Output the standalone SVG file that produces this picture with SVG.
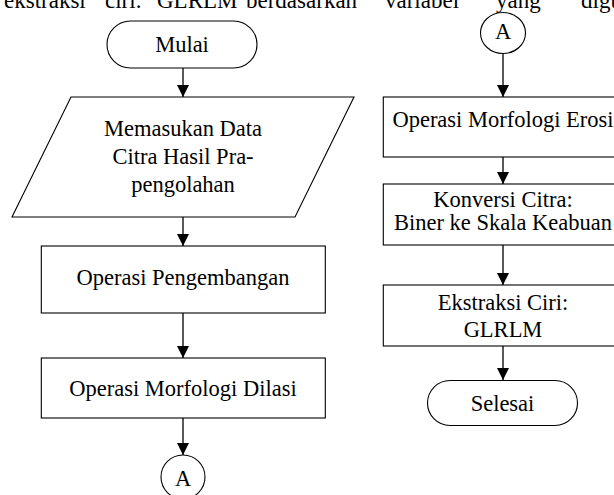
<svg xmlns="http://www.w3.org/2000/svg" width="614" height="495" viewBox="0 0 614 495">
<style>
.s{fill:#fff;stroke:#000;stroke-width:1.1}
.t{font-family:"Liberation Serif","Times New Roman",serif;font-size:22.5px;fill:#000;text-anchor:middle}
.c line{stroke:#000;stroke-width:1.3}
</style>
<defs>
<marker id="ah" markerWidth="12" markerHeight="12" viewBox="0 0 12 12" refX="12" refY="6" orient="auto" markerUnits="userSpaceOnUse">
<path d="M0,0 L12,6 L0,12 Z" fill="#000"/>
</marker>
</defs>
<rect width="614" height="495" fill="#fff"/>
<text y="8" style="font-family:'Liberation Serif','Times New Roman',serif;font-size:23px"><tspan x="4">ekstraksi</tspan><tspan x="105">ciri.</tspan><tspan x="157">GLRLM</tspan><tspan x="246">berdasarkan</tspan><tspan x="385">variabel</tspan><tspan x="496">yang</tspan><tspan x="581">digunakan</tspan></text>
<g class="c">
<line x1="183" y1="68" x2="183" y2="97" marker-end="url(#ah)"/>
<line x1="183" y1="217" x2="183" y2="246" marker-end="url(#ah)"/>
<line x1="183" y1="313" x2="183" y2="358" marker-end="url(#ah)"/>
<line x1="183" y1="418" x2="183" y2="455" marker-end="url(#ah)"/>
<line x1="503" y1="53" x2="503" y2="97" marker-end="url(#ah)"/>
<line x1="503" y1="157" x2="503" y2="184" marker-end="url(#ah)"/>
<line x1="503" y1="245" x2="503" y2="285" marker-end="url(#ah)"/>
<line x1="503" y1="346" x2="503" y2="380" marker-end="url(#ah)"/>
</g>
<g id="mulai">
<rect class="s" x="107" y="21" width="150" height="47" rx="23.5"/>
<text class="t" x="182" y="52">Mulai</text>
</g>
<g id="input">
<polygon class="s" points="71,97 354,97 295,217 12,217"/>
<text class="t" x="183" y="136">Memasukan Data</text>
<text class="t" x="183" y="164">Citra Hasil Pra-</text>
<text class="t" x="183" y="191.5">pengolahan</text>
</g>
<g id="pengembangan">
<rect class="s" x="41.3" y="246" width="284" height="67"/>
<text class="t" x="183" y="285">Operasi Pengembangan</text>
</g>
<g id="dilasi">
<rect class="s" x="41.3" y="358" width="284" height="60"/>
<text class="t" x="183" y="396">Operasi Morfologi Dilasi</text>
</g>
<g id="a1">
<ellipse class="s" cx="183" cy="477" rx="22" ry="22"/>
<text class="t" x="183" y="486">A</text>
</g>
<g id="a2">
<ellipse class="s" cx="503" cy="33" rx="22.5" ry="20.5"/>
<text class="t" x="503" y="39">A</text>
</g>
<g id="erosi">
<rect class="s" x="383.3" y="97" width="240" height="60"/>
<text class="t" x="503" y="127">Operasi Morfologi Erosi</text>
</g>
<g id="konversi">
<rect class="s" x="383.3" y="184" width="240" height="61"/>
<text class="t" x="503" y="207">Konversi Citra:</text>
<text class="t" x="503" y="230">Biner ke Skala Keabuan</text>
</g>
<g id="ekstraksi">
<rect class="s" x="383.3" y="285" width="240" height="61"/>
<text class="t" x="503" y="310">Ekstraksi Ciri:</text>
<text class="t" x="503" y="337">GLRLM</text>
</g>
<g id="selesai">
<rect class="s" x="427.5" y="380.5" width="150" height="45" rx="22.5"/>
<text class="t" x="502.5" y="411">Selesai</text>
</g>
</svg>
